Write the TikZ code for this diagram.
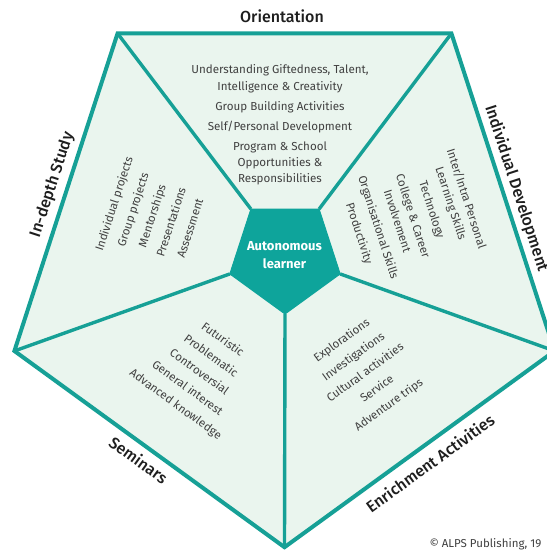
\documentclass[tikz,border=0pt]{standalone}
\usepackage{fontspec}
\setmainfont{Fira Sans}
\newfontfamily\titlefont{Fira Sans Medium}
\usetikzlibrary{calc}
\definecolor{edgeteal}{RGB}{22,160,150}
\definecolor{coreteal}{RGB}{14,164,155}
\definecolor{mint}{RGB}{234,245,238}
\definecolor{txtgray}{RGB}{64,64,64}
\definecolor{titlecol}{RGB}{30,30,30}
\tikzset{
  itemtext/.style={font=\fontsize{11.6}{16.3}\selectfont, text=txtgray, align=center, inner sep=0pt},
  sectitle/.style={font=\titlefont\fontsize{16}{19}\selectfont, text=titlecol, inner sep=0pt},
  spoke/.style={draw=edgeteal, line width=3.4pt},
  rim/.style={draw=edgeteal, line width=4pt, line join=miter}
}
\begin{document}
\begin{tikzpicture}[x=1pt,y=-1pt]
\useasboundingbox (0,0) rectangle (547,550);
\clip (0,0) rectangle (547,550);
\fill[white] (0,0) rectangle (547,550);
\coordinate (C) at (284.5,263.2);
\coordinate (ci) at (285,256);
\foreach \n/\a in {tl/234, tr/306, r/18, b/90, l/162} {
  \coordinate (O\n) at ($(C)+(\a:284)$);
  \coordinate (I\n) at ($(ci)+(\a:58)$);
}
% outer fill
\fill[mint] (Otl)--(Otr)--(Or)--(Ob)--(Ol)--cycle;
% spokes
\draw[spoke] (Itl)--(Otl);
\draw[spoke] (Itr)--(Otr);
\draw[spoke] (Ir)--(Or);
\draw[spoke] (Ib)--(Ob);
\draw[spoke] (Il)--(Ol);
% rim
\draw[rim] (Otl)--(Otr)--(Or)--(Ob)--(Ol)--cycle;
% core
\filldraw[fill=coreteal, draw=coreteal, line width=1pt, line join=miter] (Itl)--(Itr)--(Ir)--(Ib)--(Il)--cycle;
\node[font=\bfseries\fontsize{13}{18.3}\selectfont, text=white, align=center, inner sep=0pt] (core) at (284.5,255) {Autonomous\\learner};

% sector titles
\node[sectitle] (torient) at (282,16) {Orientation};
\node[sectitle, rotate=72] (tdepth) at (52.3,185) {In-depth Study};
\node[sectitle, rotate=-72] (tindiv) at (516.4,188.5) {Individual Development};
\node[sectitle, rotate=-36] (tsem) at (138.7,460) {Seminars};
\node[sectitle, rotate=36] (tenrich) at (430,463.3) {Enrichment Activities};

% sector contents
\node[itemtext] (orient) at (280,125) {Understanding Giftedness, Talent,\\ Intelligence \& Creativity\\[3.7pt] Group Building Activities\\[3.7pt] Self/Personal Development\\[3.7pt] Program \& School\\ Opportunities \&\\ Responsibilities};
\node[itemtext, rotate=72] (depth) at (151.7,215.7) {Individual projects\\[3.7pt] Group projects\\[3.7pt] Mentorships\\[3.7pt] Presentations\\[3.7pt] Assessment};
\node[itemtext, rotate=-72] (indiv) at (412.5,216.2) {Inter/Intra Personal\\ Learning Skills\\[3.7pt] Technology\\[3.7pt] College \& Career\\ Involvement\\[3.7pt] Organisational Skills\\[3.7pt] Productivity};
\node[itemtext, rotate=-36] (sem) at (199,372.3) {Futuristic\\[3.7pt] Problematic\\[3.7pt] Controversial\\[3.7pt] General interest\\[3.7pt] Advanced knowledge};
\node[itemtext, rotate=36] (enrich) at (365.5,373) {Explorations\\[3.7pt] Investigations\\[3.7pt] Cultural activities\\[3.7pt] Service\\[3.7pt] Adventure trips};

% copyright
\node[font=\fontsize{11.5}{13}\selectfont, text=txtgray, anchor=west, inner sep=0pt] (copy) at (429.3,544) {© ALPS Publishing, 19};
\end{tikzpicture}
\end{document}
